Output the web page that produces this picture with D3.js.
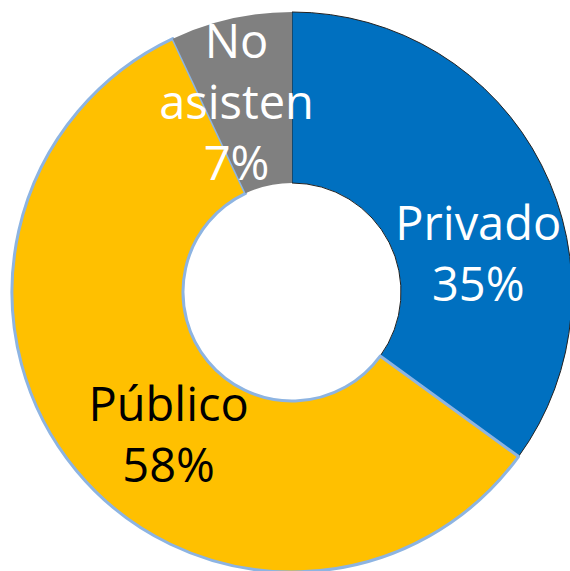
<!DOCTYPE html>
<html>
<head>
<meta charset="utf-8">
<script src="https://cdn.jsdelivr.net/npm/d3@7"></script>
<style>
  body { margin: 0; background: #fff; }
  svg { display: block; }
  .lbl { font-family: "Open Sans", sans-serif; font-size: 47px; }
</style>
</head>
<body>
<script>
const width = 570;
const height = 571;

// chart data
var categories = ["Privado", "Público", "No asisten"];
var values = [35, 58, 7];
var colors = ["#0070C0", "#FFC000", "#808080"];
var textColors = ["#fff", "#000", "#fff"];

// label lines per slice
var labelLines = [["Privado", "35%"], ["Público", "58%"], ["No", "asisten", "7%"]];

var svg = d3.select("body")
  .append("svg")
  .attr("width", width)
  .attr("height", height);

var cx = 292, cy = 292;
var outerR = 280, innerR = 109;

var g = svg.append("g").attr("transform", "translate(" + cx + "," + cy + ")");

var pie = d3.pie().sort(null).value(function(d) { return d; });
var arcs = pie(values);

var arc = d3.arc().innerRadius(innerR).outerRadius(outerR);

// slice borders (blue thin dark, yellow light blue, gray none)
var strokes = ["#222", "#8DB4E2", "none"];
var strokeW = [1, 3, 0];

g.selectAll("path")
  .data(arcs)
  .enter()
  .append("path")
  .attr("d", arc)
  .attr("fill", function(d, i) { return colors[i]; })
  .attr("stroke", function(d, i) { return strokes[i]; })
  .attr("stroke-width", function(d, i) { return strokeW[i]; })
  .attr("stroke-linejoin", "round");

// labels: placed on a ring, shifted a bit like the original
var labelArc = d3.arc().innerRadius(190).outerRadius(190);
var shift = [[17, 48], [23, 22], [-14, -4]];
var lineH = 61;

arcs.forEach(function(a, i) {
  var c = labelArc.centroid(a);
  var lines = labelLines[i];
  var x = c[0] + shift[i][0];
  var y = c[1] + shift[i][1];
  var t = g.append("text")
    .attr("class", "lbl")
    .attr("text-anchor", "middle")
    .attr("fill", textColors[i])
    .attr("x", x)
    .attr("y", y - (lines.length - 1) * lineH / 2);
  lines.forEach(function(s, k) {
    t.append("tspan")
      .attr("x", x)
      .attr("dy", k === 0 ? "0.35em" : lineH)
      .text(s);
  });
});
</script>
</body>
</html>
